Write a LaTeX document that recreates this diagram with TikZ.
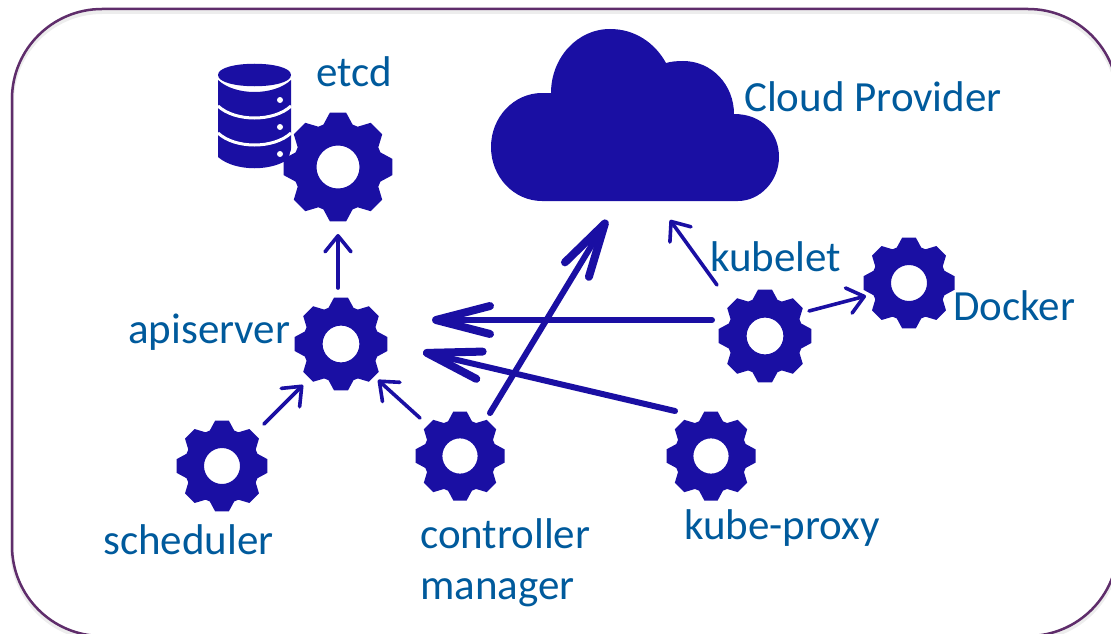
\documentclass[tikz,border=0pt]{standalone}
\usepackage{fontspec}
\setmainfont{Carlito}
\usetikzlibrary{arrows.meta}
\definecolor{gearblue}{HTML}{1A0FA3}
\definecolor{labelblue}{HTML}{005A9C}
\definecolor{framepurple}{HTML}{5F2D6B}
\tikzset{
	label/.style={text=labelblue,font=\fontsize{43}{50}\selectfont,inner sep=0pt},
	gearnode/.style={circle,inner sep=0pt,minimum size=112pt},
	thin arrow/.style={draw=gearblue,line width=3.6pt,line cap=round,-{Straight Barb[length=16pt,width=26pt,round]}},
	thick arrow/.style={draw=gearblue,line width=6pt,line cap=round,-{Straight Barb[length=54pt,width=28pt,round,line width=8pt]}}
}
% one cog, cx cy outer radius
\newcommand{\cog}[3]{
	\begin{scope}[shift={(#1,#2)},scale=#3/46]
	\fill[gearblue,even odd rule] (-19:37.5)
	\foreach \a in {0,45,...,315}{
		-- (\a-19:37.5) -- (\a-8.5:46) -- (\a+8.5:46) -- (\a+19:37.5)
	} -- cycle (0,0) circle (18);
	\end{scope}
}
\begin{document}
\begin{tikzpicture}[x=1pt,y=-1pt]
	\useasboundingbox (0,0) rectangle (1111,634);
	\begin{scope}
	\clip (0,0) rectangle (1111,634);
	\draw[black!7,line width=4pt,rounded corners=90pt] (12,12) rectangle (1118,639);
	\draw[framepurple,line width=2.5pt,rounded corners=90pt] (12,9) rectangle (1118,636);
	\end{scope}

	% database
	\fill[gearblue] (218,75) .. controls (218,60) and (291,60) .. (291,75)
	.. controls (291,90) and (218,90) .. (218,75) -- cycle;
	\fill[gearblue] (218,80) .. controls (235,96) and (274,96) .. (291,80)
	-- (291,157) .. controls (274,172) and (235,172) .. (218,157) -- cycle;
	\draw[white,line width=3pt] (218,106) .. controls (235,122) and (274,122) .. (291,106);
	\draw[white,line width=3pt] (218,133) .. controls (235,149) and (274,149) .. (291,133);
	\fill[white] (280,100) circle (3) (280,127) circle (3) (280,154) circle (3);

	% cloud
	\fill[gearblue] (542,201) .. controls (514,201) and (491,177) .. (491,147)
	.. controls (491,117) and (514,93) .. (542,93) -- (551,93)
	.. controls (551,58) and (577,29) .. (610,29)
	.. controls (635,29) and (655,43) .. (666,63)
	.. controls (671,61.5) and (677,61) .. (683,61)
	.. controls (712,61) and (734,85) .. (734,114)
	.. controls (762,114) and (779,133) .. (779,157)
	.. controls (779,181) and (760,201) .. (738,201) -- cycle;

	% cogs
	\fill[white] (338,167) circle (50);
	\cog{338}{167}{55}
	\cog{341}{344}{47}
	\cog{222}{466}{46}
	\cog{460}{456}{45}
	\cog{711}{456}{45}
	\cog{765}{336}{47}
	\cog{909}{283}{46}
	\node[gearnode] (etcdcog) at (338,167) {};
	\node[gearnode] (apiservercog) at (341,344) {};
	\node[gearnode] (schedulercog) at (222,466) {};
	\node[gearnode] (controllercog) at (460,456) {};
	\node[gearnode] (proxycog) at (711,456) {};
	\node[gearnode] (kubeletcog) at (765,336) {};
	\node[gearnode] (dockercog) at (909,283) {};

	\node[label,anchor=base west] (etcd) at (316,86) {etcd};
	\node[label,anchor=base west] (cloud) at (744,111) {Cloud Provider};
	\node[label,anchor=base west] (kubelet) at (710,271) {kubelet};
	\node[label,anchor=base west] (docker) at (953,320) {Docker};
	\node[label,anchor=base west] (apiserver) at (128,343) {apiserver};
	\node[label,anchor=base west] (scheduler) at (103,554) {scheduler};
	\node[label,anchor=base west] (kubeproxy) at (684,539) {kube-proxy};
	\node[label,anchor=base west] (controller) at (420,548) {controller};
	\node[label,anchor=base west] (manager) at (420,599) {manager};

	\coordinate (cloudleft) at (607,220);
	\coordinate (cloudright) at (670,220);
	\coordinate (kubelettail) at (717,285);
	\coordinate (apiservertip) at (432,320);
	\coordinate (kubelethead) at (712,320);
	\coordinate (apiserverlow) at (423,352);
	\coordinate (proxytail) at (675,411);
	\coordinate (controllertail) at (490,413);
	\coordinate (etcdtip) at (338,234);
	\coordinate (apiservertop) at (338,288);
	\coordinate (schedulertail) at (264,424);
	\coordinate (schedulertip) at (303,385);
	\coordinate (controllerback) at (420,418);
	\coordinate (controllertip) at (378,380);
	\coordinate (kubeletright) at (809,311);
	\coordinate (dockertip) at (866,296);

	\draw[thin arrow] (apiservertop) -- (etcdtip);
	\draw[thin arrow] (schedulertail) -- (schedulertip);
	\draw[thin arrow] (controllerback) -- (controllertip);
	\draw[thin arrow] (kubeletright) -- (dockertip);
	\draw[thin arrow] (kubelettail) -- (cloudright);
	\draw[thick arrow] (kubelethead) -- (apiservertip);
	\draw[thick arrow] (proxytail) -- (apiserverlow);
	\draw[thick arrow] (controllertail) -- (cloudleft);
\end{tikzpicture}
\end{document}
